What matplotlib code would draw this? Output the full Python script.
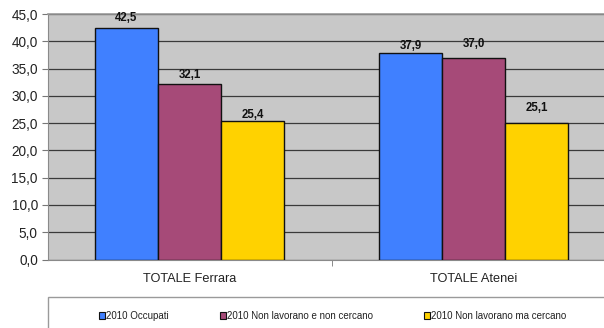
import matplotlib
matplotlib.use("Agg")
import matplotlib.pyplot as plt
from matplotlib.patches import Patch, Rectangle
import numpy as np

# Data
categories = ["TOTALE Ferrara", "TOTALE Atenei"]
series_names = ["2010 Occupati", "2010 Non lavorano e non cercano", "2010 Non lavorano ma cercano"]
occupati = [42.5, 37.9]
non_cercano = [32.1, 37.0]
ma_cercano = [25.4, 25.1]
y_ticks = [0, 5, 10, 15, 20, 25, 30, 35, 40, 45]

series_values = [occupati, non_cercano, ma_cercano]
colors = ["#4080FF", "#A64A78", "#FFD200"]
# vertical offset (points) of each value label above its bar, per series/category
label_offsets = [[6.8, 4.8], [6.5, 10.1], [4.3, 10.3]]

plt.rcParams["font.family"] = ["Liberation Sans", "DejaVu Sans"]

W, H = 604, 328
fig = plt.figure(figsize=(W / 100, H / 100), dpi=100)
fig.patch.set_facecolor("white")

left_px, right_px, top_px, bottom_px = 47.5, 615.7, 14.0, 259.5
ax = fig.add_axes([left_px / W, (H - bottom_px) / H,
                   (right_px - left_px) / W, (bottom_px - top_px) / H])
ax.set_facecolor("#C8C8C8")

x = np.arange(len(categories))
bar_w = 0.222
for i, (vals, col) in enumerate(zip(series_values, colors)):
    pos = x + (i - 1) * bar_w
    ax.bar(pos, vals, width=bar_w, color=col, edgecolor="#111111",
           linewidth=1.0, zorder=3)
    for j, (px, v) in enumerate(zip(pos, vals)):
        ax.annotate(f"{v:.1f}".replace(".", ","), (px, v),
                    xytext=(0, label_offsets[i][j]), textcoords="offset points",
                    ha="center", va="center", fontsize=8.3, fontweight="bold",
                    color="#111111", zorder=4)

ax.set_xlim(-0.5, 1.5)
ax.set_ylim(0, 45)
ax.set_yticks(y_ticks)
ax.set_yticklabels([f"{t:.1f}".replace(".", ",") for t in y_ticks], fontsize=9.8,
                   color="#222222")
ax.yaxis.grid(True, color="#3A3A3A", linewidth=0.9, zorder=1)
ax.set_axisbelow(True)

ax.set_xticks(x)
ax.set_xticklabels(categories, fontsize=9.2, color="#222222")
ax.set_xticks([0.5], minor=True)
ax.tick_params(axis="x", which="major", length=0, pad=10)
ax.tick_params(axis="x", which="minor", length=4, color="#777777", direction="out")
ax.tick_params(axis="y", length=4, color="#777777", pad=3)

for side in ["right"]:
    ax.spines[side].set_visible(False)
ax.spines["top"].set_color("#9A9A9A")
ax.spines["top"].set_linewidth(1.2)
ax.spines["left"].set_color("#8A8A8A")
ax.spines["bottom"].set_color("#8A8A8A")

# Legend frame
frame_top = 296.7
fig.add_artist(Rectangle((left_px / W, -0.1), 1.0, (H - frame_top) / H + 0.1,
                         transform=fig.transFigure, facecolor="white",
                         edgecolor="#9A9A9A", linewidth=1.0))

handles = [Patch(facecolor=c, edgecolor="#111111", linewidth=0.8) for c in colors]
fig.legend(handles, series_names, ncol=3, loc="center left",
           bbox_to_anchor=(98.5 / W, 1 - 316 / H), frameon=False,
           fontsize=7, handlelength=0.62, handleheight=0.62,
           handletextpad=0.1, columnspacing=5.3, borderpad=0, borderaxespad=0,
           labelcolor="#222222")

fig.savefig("out.png", dpi=100, facecolor="white")
